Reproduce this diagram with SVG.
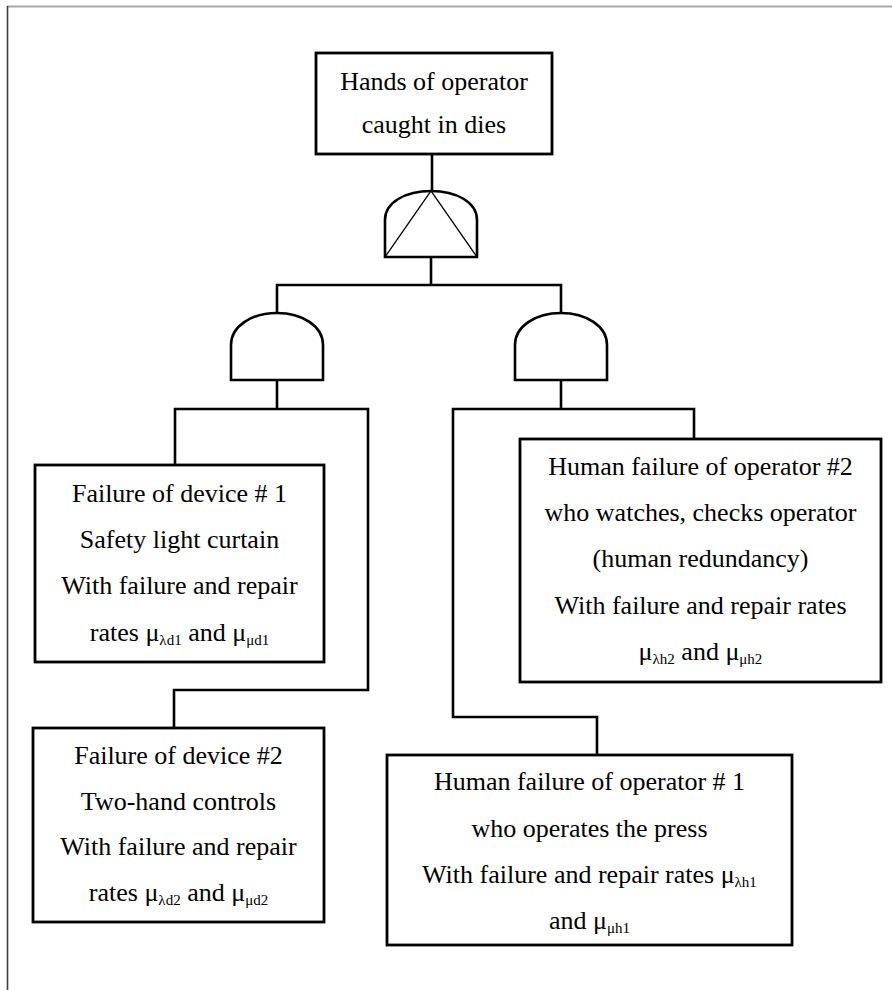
<svg xmlns="http://www.w3.org/2000/svg" width="892" height="990" viewBox="0 0 892 990">
<style>
.box{fill:#fff;stroke:#000;stroke-width:2.8}
.gate{fill:#fff;stroke:#000;stroke-width:2.6}
.thin{fill:none;stroke:#000;stroke-width:1.3}
.con{fill:none;stroke:#000;stroke-width:2.6;stroke-linejoin:miter}
text{font-family:"Liberation Serif","Times New Roman",serif;font-size:26px;fill:#000;text-anchor:middle}
.sub{font-size:15px}
</style>
<rect x="0" y="0" width="892" height="990" fill="#fff"/>
<line x1="7" y1="6.5" x2="892" y2="6.5" stroke="#a6a6a6" stroke-width="1.8"/>
<line x1="7.5" y1="6" x2="7.5" y2="990" stroke="#404040" stroke-width="1.6"/>

<g id="connectors">
<path class="con" d="M432,154 V191"/>
<path class="con" d="M431,257 V285"/>
<path class="con" d="M277,313 V285 H561 V313"/>
<path class="con" d="M277,380 V409"/>
<path class="con" d="M175,465 V409 H368 V690 H174 V728"/>
<path class="con" d="M561,380 V409"/>
<path class="con" d="M694,439 V409 H453 V717 H597 V755"/>
</g>

<g id="top-event">
<rect class="box" x="316" y="53" width="236" height="101"/>
<text x="434" y="90">Hands of operator</text>
<text x="434" y="133">caught in dies</text>
</g>

<g id="gate-top">
<path class="gate" d="M385,257 V220 C385,202 406,191 431,191 C456,191 477,202 477,220 V257 Z"/>
<path class="thin" d="M385,257 L431,191 L477,257"/>
</g>

<g id="gate-left">
<path class="gate" d="M231,380 V345 C231,326 252,313 277,313 C302,313 323,326 323,345 V380 Z"/>
</g>

<g id="gate-right">
<path class="gate" d="M515,380 V345 C515,326 536,313 561,313 C586,313 607,326 607,345 V380 Z"/>
</g>

<g id="device1">
<rect class="box" x="35" y="465" width="289" height="197"/>
<text x="179.5" y="502">Failure of device # 1</text>
<text x="179.5" y="548">Safety light curtain</text>
<text x="179.5" y="594">With failure and repair</text>
<text x="179.5" y="641">rates μ<tspan class="sub" dy="4">λd1</tspan><tspan dy="-4"> and μ</tspan><tspan class="sub" dy="4">μd1</tspan></text>
</g>

<g id="operator2">
<rect class="box" x="520" y="439" width="361" height="243"/>
<text x="700.5" y="475">Human failure of operator #2</text>
<text x="700.5" y="521">who watches, checks operator</text>
<text x="700.5" y="567">(human redundancy)</text>
<text x="700.5" y="614">With failure and repair rates</text>
<text x="700.5" y="660">μ<tspan class="sub" dy="4">λh2</tspan><tspan dy="-4"> and μ</tspan><tspan class="sub" dy="4">μh2</tspan></text>
</g>

<g id="device2">
<rect class="box" x="33" y="728" width="291" height="194"/>
<text x="178.5" y="764">Failure of device #2</text>
<text x="178.5" y="810">Two-hand controls</text>
<text x="178.5" y="855">With failure and repair</text>
<text x="178.5" y="901">rates μ<tspan class="sub" dy="4">λd2</tspan><tspan dy="-4"> and μ</tspan><tspan class="sub" dy="4">μd2</tspan></text>
</g>

<g id="operator1">
<rect class="box" x="387" y="755" width="405" height="190"/>
<text x="589.5" y="790">Human failure of operator # 1</text>
<text x="589.5" y="837">who operates the press</text>
<text x="589.5" y="883">With failure and repair rates μ<tspan class="sub" dy="4">λh1</tspan></text>
<text x="589.5" y="929">and μ<tspan class="sub" dy="4">μh1</tspan></text>
</g>
</svg>
